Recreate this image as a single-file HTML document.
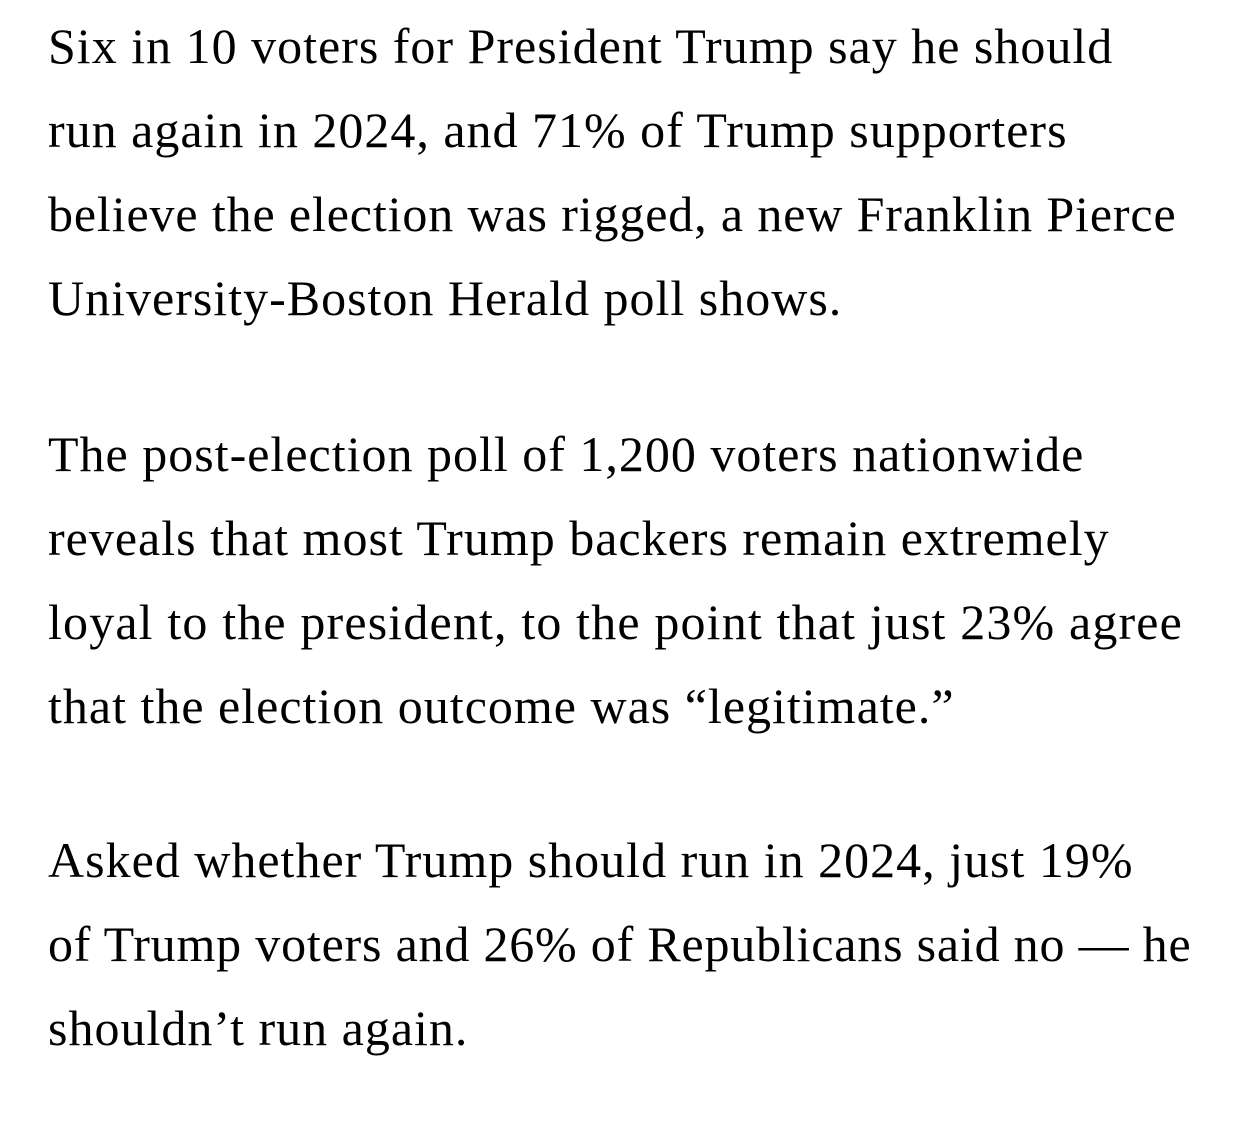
<!DOCTYPE html>
<html>
<head>
<meta charset="utf-8">
<style>
  html, body { margin: 0; padding: 0; background: #ffffff; }
  body { width: 1242px; height: 1121px; position: relative; overflow: hidden; }
  .line {
    position: absolute; left: 48px; height: 84px; line-height: 84px;
    font-family: "Liberation Serif", serif; font-size: 50px; letter-spacing: 1px; color: #000000;
    white-space: nowrap;
  }
</style>
</head>
<body>
<div>
  <div>
    <div class="line" style="top:4px">Six in 10 voters for President Trump say he should</div>
    <div class="line" style="top:88px">run again in 2024, and 71% of Trump supporters</div>
    <div class="line" style="top:172px;letter-spacing:0.87px">believe the election was rigged, a new Franklin Pierce</div>
    <div class="line" style="top:256px">University-Boston Herald poll shows.</div>
  </div>
  <div>
    <div class="line" style="top:412px">The post-election poll of 1,200 voters nationwide</div>
    <div class="line" style="top:496px">reveals that most Trump backers remain extremely</div>
    <div class="line" style="top:580px;letter-spacing:1.15px">loyal to the president, to the point that just 23% agree</div>
    <div class="line" style="top:664px">that the election outcome was “legitimate.”</div>
  </div>
  <div>
    <div class="line" style="top:818px">Asked whether Trump should run in 2024, just 19%</div>
    <div class="line" style="top:902px;letter-spacing:0.8px">of Trump voters and 26% of Republicans said no — he</div>
    <div class="line" style="top:986px">shouldn’t run again.</div>
  </div>
</div>
</body>
</html>
